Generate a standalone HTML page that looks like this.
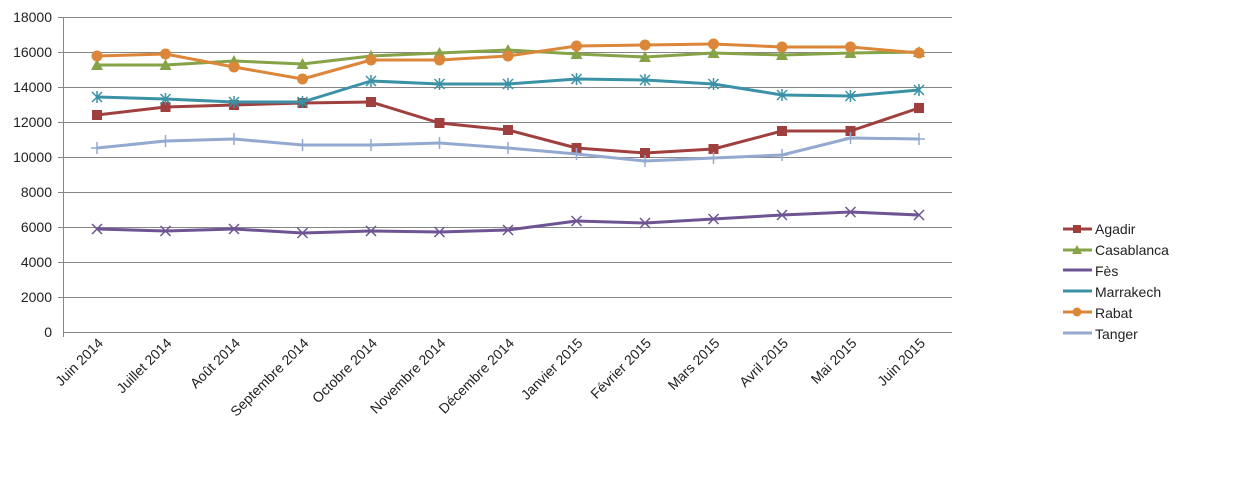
<!DOCTYPE html>
<html><head><meta charset="utf-8"><style>body{margin:0;background:#fff}svg{display:block}text{font-family:"Liberation Sans",sans-serif;fill:#222}</style></head>
<body>
<svg width="1254" height="482" xmlns="http://www.w3.org/2000/svg">
<g stroke="#868686" stroke-width="1">
<line x1="63" y1="17.5" x2="952" y2="17.5"/><line x1="63" y1="52.5" x2="952" y2="52.5"/><line x1="63" y1="87.5" x2="952" y2="87.5"/><line x1="63" y1="122.5" x2="952" y2="122.5"/><line x1="63" y1="157.5" x2="952" y2="157.5"/><line x1="63" y1="192.5" x2="952" y2="192.5"/><line x1="63" y1="227.5" x2="952" y2="227.5"/><line x1="63" y1="262.5" x2="952" y2="262.5"/><line x1="63" y1="297.5" x2="952" y2="297.5"/><line x1="63" y1="332.5" x2="952" y2="332.5"/>
<line x1="63.5" y1="17" x2="63.5" y2="337"/>
<line x1="58" y1="17.5" x2="63" y2="17.5"/><line x1="58" y1="52.5" x2="63" y2="52.5"/><line x1="58" y1="87.5" x2="63" y2="87.5"/><line x1="58" y1="122.5" x2="63" y2="122.5"/><line x1="58" y1="157.5" x2="63" y2="157.5"/><line x1="58" y1="192.5" x2="63" y2="192.5"/><line x1="58" y1="227.5" x2="63" y2="227.5"/><line x1="58" y1="262.5" x2="63" y2="262.5"/><line x1="58" y1="297.5" x2="63" y2="297.5"/>
</g>
<g font-size="14" text-anchor="end">
<text x="52" y="22">18000</text><text x="52" y="57">16000</text><text x="52" y="92">14000</text><text x="52" y="127">12000</text><text x="52" y="162">10000</text><text x="52" y="197">8000</text><text x="52" y="232">6000</text><text x="52" y="267">4000</text><text x="52" y="302">2000</text><text x="52" y="337">0</text>
</g>
<g font-size="14" text-anchor="end" id="xl"></g>
<g id="series"></g>
<g font-size="14">
<line x1="1063" y1="229" x2="1092" y2="229" stroke="#A0403E" stroke-width="3"/><rect x="1073" y="225" width="8" height="8" fill="#A0403E"/><text x="1095" y="234">Agadir</text>
<line x1="1063" y1="250" x2="1092" y2="250" stroke="#86A348" stroke-width="3"/><polygon points="1077,245 1082,254 1072,254" fill="#86A348"/><text x="1095" y="255">Casablanca</text>
<line x1="1063" y1="270" x2="1092" y2="270" stroke="#6F5494" stroke-width="3"/><text x="1095" y="276">Fès</text>
<line x1="1063" y1="291" x2="1092" y2="291" stroke="#3B92A6" stroke-width="3"/><text x="1095" y="297">Marrakech</text>
<line x1="1063" y1="312" x2="1092" y2="312" stroke="#DC8639" stroke-width="3"/><circle cx="1077" cy="312" r="4.5" fill="#DC8639"/><text x="1095" y="318">Rabat</text>
<line x1="1063" y1="333" x2="1092" y2="333" stroke="#93A9CF" stroke-width="3"/><text x="1095" y="339">Tanger</text>
</g>
<script>
var ns="http://www.w3.org/2000/svg";
var labels=["Juin 2014","Juillet 2014","Août 2014","Septembre 2014","Octobre 2014","Novembre 2014","Décembre 2014","Janvier 2015","Février 2015","Mars 2015","Avril 2015","Mai 2015","Juin 2015"];
function X(i){return 97+i*68.5;}
var xl=document.getElementById("xl");
labels.forEach(function(l,i){var t=document.createElementNS(ns,"text");var x=X(i)+7,y=344;t.setAttribute("x",x);t.setAttribute("y",y);t.setAttribute("transform","rotate(-45 "+x+" "+y+")");t.textContent=l;xl.appendChild(t);});
var S=[
["#A0403E","sq",[115,107,105,103,102,123,130,148,153,149,131,131,108]],
["#86A348","tri",[65,65,61,64,56,53,50,54,57,53,55,53,52]],
["#6F5494","x",[229,231,229,233,231,232,230,221,223,219,215,212,215]],
["#3B92A6","star",[97,99,102,102,81,84,84,79,80,84,95,96,90]],
["#DC8639","circ",[56,54,67,79,60,60,56,46,45,44,47,47,53]],
["#93A9CF","plus",[148,141,139,145,145,143,148,154,161,158,155,138,139]]];
var g=document.getElementById("series");
function el(n,a){var e=document.createElementNS(ns,n);for(var k in a)e.setAttribute(k,a[k]);g.appendChild(e);return e;}
S.forEach(function(s){var c=s[0];var pts=s[2].map(function(y,i){return X(i)+","+y;}).join(" ");
el("polyline",{points:pts,fill:"none",stroke:c,"stroke-width":3,"stroke-linejoin":"round"});
s[2].forEach(function(y,i){var x=X(i);
if(s[1]=="sq")el("rect",{x:x-5,y:y-5,width:10,height:10,fill:c});
else if(s[1]=="tri")el("polygon",{points:(x)+","+(y-6)+" "+(x+6)+","+(y+5)+" "+(x-6)+","+(y+5),fill:c});
else if(s[1]=="circ")el("circle",{cx:x,cy:y,r:5.5,fill:c});
else{var d="M"+(x-5)+" "+(y-5)+"L"+(x+5)+" "+(y+5)+"M"+(x-5)+" "+(y+5)+"L"+(x+5)+" "+(y-5);
if(s[1]=="star")d+="M"+x+" "+(y-6)+"L"+x+" "+(y+6);
if(s[1]=="plus")d="M"+x+" "+(y-6)+"L"+x+" "+(y+6)+"M"+(x-6)+" "+y+"L"+(x+6)+" "+y;
el("path",{d:d,stroke:c,"stroke-width":1.5,fill:"none"});}
});});
</script>
</svg>
</body></html>
